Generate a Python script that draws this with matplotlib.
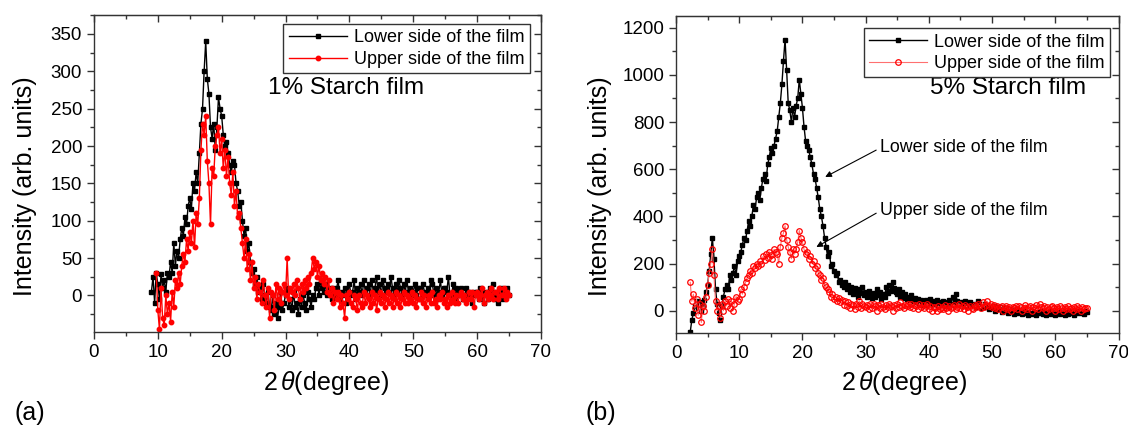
import matplotlib

matplotlib.use("Agg")
import matplotlib.pyplot as plt
import numpy as np
from matplotlib.ticker import MultipleLocator

plt.rcParams["font.family"] = ["Liberation Sans", "DejaVu Sans"]
plt.rcParams["mathtext.fontset"] = "custom"
plt.rcParams["mathtext.it"] = "Liberation Sans:italic"
plt.rcParams["mathtext.rm"] = "Liberation Sans"

# scan step of the read-off curves (degrees 2theta)
STEP = 0.25

# (a) 1% starch film
a_lower_x0 = 9.0
a_lower = [
    5, 25, -10, 30,
    15, -5, 28, 10,
    20, 5, 30, 25,
    45, 30, 70, 40,
    60, 50, 75, 90,
    80, 105, 95, 120,
    130, 115, 150, 140,
    165, 150, 190, 230,
    250, 300, 340, 290,
    270, 225, 210, 230,
    195, 225, 265, 250,
    240, 215, 200, 205,
    190, 175, 165, 180,
    175, 150, 140, 120,
    125, 100, 80, 90,
    60, 70, 45, 30,
    35, 15, 25, 5,
    10, -5, 15, 0,
    -10, 5, -15, -20,
    0, -25, -10, -30,
    -15, 5, -20, -10,
    0, 10, -15, -5,
    -20, 5, -15, -10,
    -25, -5, -15, 0,
    -10, -20, 5, -5,
    -15, 0, -5, 10,
    15, 0, 20, 10,
    5, 15, 0, 10,
    5, -5, 10, 0,
    10, 20, -5, 5,
    0, 10, -10, 5,
    15, 0, 5, 20,
    -5, 10, 5, 15,
    0, 20, 5, 10,
    15, 0, 20, 5,
    10, 25, 5, 15,
    0, 20, 10, 5,
    15, 5, 25, 10,
    0, 15, 5, 20,
    10, 0, 15, 5,
    20, 5, 10, 0,
    5, 15, 0, 10,
    10, -5, 15, 5,
    0, 10, 5, 20,
    15, 0, 10, -5,
    5, 20, 0, 10,
    10, 5, 25, 0,
    0, 15, -5, 10,
    5, 0, 10, -5,
    -5, 10, 0, 5,
    0, -10, 5, 0,
    5, -5, 10, 0,
    -10, 5, 0, -5,
    10, 0, 15, -5,
    0, -10, 5, 10,
    -5, 5, 0, 10,
    0,
]
a_upper_x0 = 9.75
a_upper = [
    30,
    -20, -45, 10, -30,
    -40, 0, -25, -10,
    -35, 5, -15, 20,
    10, 30, 15, 40,
    55, 45, 75, 60,
    85, 70, 100, 65,
    110, 95, 130, 195,
    230, 215, 240, 180,
    150, 95, 170, 160,
    200, 215, 225, 190,
    210, 170, 195, 160,
    185, 150, 135, 165,
    120, 140, 105, 110,
    90, 70, 50, 75,
    35, 55, 20, 45,
    10, 25, -5, 15,
    5, -10, 20, 0,
    -15, 10, -30, 5,
    0, -20, 15, -5,
    10, -10, 5, 15,
    0, 50, -5, 10,
    5, 15, 0, 20,
    10, -5, 15, 5,
    20, 10, 25, 15,
    30, 50, 35, 45,
    25, 40, 20, 30,
    15, 25, 5, 20,
    0, 10, -10, 5,
    -5, 5, -15, 0,
    -10, -30, 0, -5,
    5, -10, -15, 0,
    -5, -20, 0, -10,
    -15, 5, -10, 0,
    -5, -15, 5, -10,
    0, -20, -5, 5,
    -10, 0, -15, -5,
    5, -10, 0, -15,
    -5, 5, -10, 0,
    -15, -5, 5, -10,
    0, -10, -5, 5,
    -10, 0, -15, -5,
    -5, 5, -10, 0,
    -15, -5, 0, -10,
    5, -10, -5, -15,
    0, -5, 5, -10,
    -5, -15, 0, -10,
    5, -5, -10, 0,
    -10, 0, 5, -5,
    0, -10, -5, 5,
    -5, 5, -15, 0,
    5, -5, 0, 10,
    -10, 0, 5, -5,
    0, 10, -5, 5,
    5, -5, 10, 0,
    0, 10, -5, 5,
    0,
]

# (b) 5% starch film
b_x0 = 2.25
b_lower = [
    -90, -40, -10,
    20, 40, 10, 35,
    0, 25, 45, 80,
    110, 170, 240, 310,
    220, 90, 30, -10,
    -40, 20, 60, 90,
    110, 90, 150, 130,
    160, 190, 150, 210,
    230, 250, 280, 310,
    300, 340, 380, 360,
    400, 450, 430, 480,
    500, 470, 520, 560,
    580, 550, 620, 650,
    690, 670, 700, 730,
    760, 820, 880, 960,
    1060, 1150, 1020, 880,
    850, 800, 860, 820,
    870, 900, 980, 920,
    860, 780, 720, 700,
    680, 650, 620, 580,
    560, 520, 480, 430,
    400, 360, 310, 270,
    230, 250, 190, 200,
    170, 150, 160, 120,
    130, 110, 100, 120,
    90, 110, 80, 100,
    70, 95, 80, 60,
    90, 75, 100, 65,
    80, 60, 85, 70,
    55, 75, 60, 90,
    65, 80, 50, 70,
    60, 100, 75, 110,
    85, 120, 95, 80,
    70, 90, 60, 80,
    55, 70, 50, 60,
    45, 65, 40, 55,
    35, 50, 30, 45,
    40, 25, 45, 30,
    35, 50, 25, 40,
    30, 45, 20, 35,
    25, 40, 30, 20,
    35, 45, 25, 60,
    30, 70, 40, 30,
    25, 35, 20, 40,
    30, 15, 35, 25,
    20, 30, 15, 40,
    25, 10, 30, 20,
    15, 25, 5, 20,
    10, 20, 0, 15,
    5, 15, -5, 10,
    0, 10, -10, 5,
    -5, 5, -15, 0,
    -10, 5, -5, -15,
    0, -10, -5, -20,
    -5, -15, 0, -10,
    -20, -5, -10, 0,
    -15, -5, -20, -10,
    -5, -15, 0, -10,
    -20, -5, -10, -15,
    0, -10, -20, -5,
    -15, 0, -10, -5,
    -20, -5, -10, 0,
    -10, -5, -15, 0,
    -5,
]
b_upper = [
    120, 40, 70,
    10, 50, -20, 30,
    -50, 20, 0, 60,
    110, 160, 200, 260,
    150, 40, 0, 20,
    -30, 30, 0, 40,
    20, 50, 10, 40,
    0, 30, 60, 40,
    50, 90, 70, 100,
    120, 140, 150, 170,
    160, 190, 180, 200,
    190, 210, 200, 230,
    215, 240, 225, 250,
    235, 220, 260, 250,
    240, 200, 270, 310,
    330, 360, 300, 270,
    250, 220, 260, 240,
    260, 290, 340, 310,
    290, 260, 240, 250,
    220, 230, 200, 210,
    180, 190, 160, 150,
    130, 140, 110, 100,
    90, 80, 60, 70,
    50, 60, 40, 55,
    35, 45, 25, 40,
    20, 35, 10, 30,
    25, 5, 30, 15,
    40, 10, 30, 20,
    15, 25, 5, 30,
    10, 30, 20, 0,
    25, 10, 30, 15,
    5, 25, 15, 30,
    20, 0, 25, 10,
    30, 15, 35, 20,
    10, 25, 20, 30,
    15, 30, 10, 25,
    20, 5, 30, 15,
    25, 10, 20, 30,
    5, 20, 0, 15,
    10, 0, 20, 5,
    15, 5, 25, 10,
    0, 20, 10, 15,
    25, 5, 15, 30,
    10, 20, 5, 25,
    15, 0, 20, 10,
    5, 25, 15, 30,
    20, 10, 35, 15,
    25, 40, 20, 30,
    15, 25, 10, 20,
    5, 15, 20, 0,
    10, 20, 5, 15,
    0, 15, 10, 20,
    5, 20, 15, 0,
    10, 25, 5, 15,
    20, 0, 15, 10,
    25, 5, 30, 15,
    10, 20, 0, 15,
    5, 15, 20, 10,
    0, 15, 5, 20,
    10, 0, 15, 5,
    20, 5, 10, 0,
    15, 5, 20, 10,
    0, 15, 5, 10,
    10,
]

LOWER_LABEL = "Lower side of the film"
UPPER_LABEL = "Upper side of the film"
SPINE = "#333333"


def scan_x(x0, values):
    return x0 + STEP * np.arange(len(values))


def style_axes(ax, ylim, ymajor, yminor):
    ax.set_xlim(0, 70)
    ax.set_ylim(*ylim)
    ax.xaxis.set_major_locator(MultipleLocator(10))
    ax.xaxis.set_minor_locator(MultipleLocator(5))
    ax.yaxis.set_major_locator(MultipleLocator(ymajor))
    ax.yaxis.set_minor_locator(MultipleLocator(yminor))
    ax.tick_params(which="both", direction="out", labelsize=13.5, width=1, color=SPINE)
    ax.tick_params(which="major", length=5)
    ax.tick_params(which="minor", length=3)
    for s in ax.spines.values():
        s.set_linewidth(1)
        s.set_color(SPINE)

    top = ax.secondary_xaxis("top")
    top.xaxis.set_major_locator(MultipleLocator(10))
    top.xaxis.set_minor_locator(MultipleLocator(5))
    top.tick_params(which="both", direction="in", labeltop=False, width=1, color=SPINE)
    top.tick_params(which="major", length=5)
    top.tick_params(which="minor", length=3)
    top.spines["top"].set_color(SPINE)

    right = ax.secondary_yaxis("right")
    right.yaxis.set_major_locator(MultipleLocator(ymajor))
    right.yaxis.set_minor_locator(MultipleLocator(yminor))
    right.tick_params(which="both", direction="in", labelright=False, width=1, color=SPINE)
    right.tick_params(which="major", length=5)
    right.tick_params(which="minor", length=3)
    right.spines["right"].set_color(SPINE)


def add_legend(ax, anchor):
    leg = ax.legend(
        loc="upper right", bbox_to_anchor=anchor, fontsize=13, frameon=True,
        fancybox=False, framealpha=1, edgecolor=SPINE, borderaxespad=0,
        borderpad=0.3, labelspacing=0.25, handlelength=3.2, handletextpad=0.4,
        numpoints=1,
    )
    leg.get_frame().set_linewidth(1)


def main() -> None:
    fig = plt.figure(figsize=(11.28, 4.26), dpi=100)
    ax_a = fig.add_axes([0.0833, 0.2207, 0.3963, 0.7434])
    ax_b = fig.add_axes([0.5993, 0.2176, 0.3923, 0.7455])

    # panel (a)
    ax_a.plot(scan_x(a_lower_x0, a_lower), a_lower, color="black", lw=1.0,
              marker="s", ms=3.2, label=LOWER_LABEL)
    ax_a.plot(scan_x(a_upper_x0, a_upper), a_upper, color="#ff0000", lw=1.0,
              marker="o", ms=3.2, label=UPPER_LABEL)
    style_axes(ax_a, (-49, 375), 50, 25)
    add_legend(ax_a, (0.975, 0.9725))
    ax_a.text(27.2, 278, "1% Starch film", fontsize=17.5, ha="left", va="center")

    # panel (b)
    ax_b.plot(scan_x(b_x0, b_lower), b_lower, color="black", lw=1.0,
              marker="s", ms=3.2, label=LOWER_LABEL)
    ax_b.plot(scan_x(b_x0, b_upper), b_upper, color="#ff7070", lw=0.8,
              marker="o", ms=4.0, mfc="none", mec="#ff0000", mew=0.9,
              label=UPPER_LABEL)
    style_axes(ax_b, (-96, 1251), 200, 100)
    add_legend(ax_b, (0.981, 0.961))
    ax_b.text(40.2, 944, "5% Starch film", fontsize=17.5, ha="left", va="center")

    arrow = dict(arrowstyle="-|>", color="black", lw=0.8, mutation_scale=9,
                 shrinkA=1, shrinkB=0, relpos=(0, 0.5))
    ax_b.annotate(LOWER_LABEL, xy=(23.6, 567), xytext=(32.3, 690), fontsize=12.8,
                  ha="left", va="center", arrowprops=arrow)
    ax_b.annotate(UPPER_LABEL, xy=(22.2, 270), xytext=(32.3, 423), fontsize=12.8,
                  ha="left", va="center", arrowprops=arrow)

    # axis titles and panel tags, placed in figure pixels / size
    W, H = 1128, 426
    for px in (25, 600):
        fig.text(px / W, 1 - 186 / H, "Intensity (arb. units)", rotation=90,
                 ha="center", va="center", fontsize=18)
    for px in (326, 904):
        fig.text(px / W, 1 - 383 / H, "2$\\,\\theta$(degree)", ha="center",
                 va="center", fontsize=18)
    fig.text(14 / W, 1 - 413 / H, "(a)", ha="left", va="center", fontsize=18)
    fig.text(586 / W, 1 - 413 / H, "(b)", ha="left", va="center", fontsize=18)

    fig.savefig("out.png", dpi=100)


if __name__ == "__main__":
    main()
